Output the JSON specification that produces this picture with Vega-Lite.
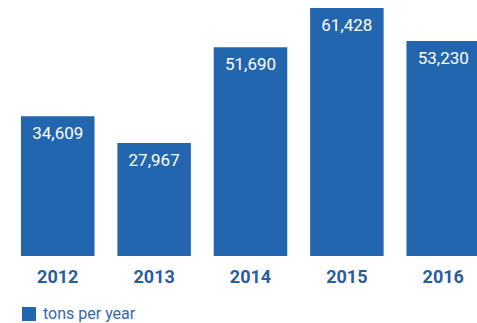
{
  "$schema": "https://vega.github.io/schema/vega-lite/v6.json",
  "width": 477,
  "height": 248,
  "autosize": {"type": "none"},
  "padding": {"left": 0, "top": 8, "right": 0, "bottom": 67},
  "background": "white",
  "config": {"view": {"stroke": null}, "font": "Roboto"},
  "data": {
    "values": [
      {"year": "2012", "tons": 34609, "series": "tons per year"},
      {"year": "2013", "tons": 27967, "series": "tons per year"},
      {"year": "2014", "tons": 51690, "series": "tons per year"},
      {"year": "2015", "tons": 61428, "series": "tons per year"},
      {"year": "2016", "tons": 53230, "series": "tons per year"}
    ]
  },
  "encoding": {
    "x": {
      "field": "year",
      "type": "ordinal",
      "scale": {"range": [21, 480], "paddingInner": 0.237, "paddingOuter": 0},
      "axis": {
        "title": null,
        "domain": false,
        "ticks": false,
        "tickSize": 0,
        "labelAngle": 0,
        "labelFont": "Roboto",
        "labelFontWeight": "bold",
        "labelFontSize": 18,
        "labelColor": "#2a5c9e",
        "labelBaseline": "alphabetic",
        "labelPadding": 26
      }
    },
    "y": {
      "field": "tons",
      "type": "quantitative",
      "scale": {"domain": [0, 61428], "nice": false},
      "axis": null
    }
  },
  "layer": [
    {
      "mark": {"type": "bar", "clip": true},
      "encoding": {
        "color": {
          "field": "series",
          "type": "nominal",
          "scale": {"range": ["#2266b0"]},
          "legend": {
            "title": null,
            "orient": "none",
            "legendX": 21,
            "legendY": 298,
            "padding": 0,
            "symbolType": "square",
            "symbolSize": 196,
            "symbolStrokeWidth": 0,
            "symbolOpacity": 1,
            "labelFont": "Roboto",
            "labelFontSize": 16,
            "labelColor": "#3467ad",
            "labelOffset": 6
          }
        }
      }
    },
    {
      "mark": {"type": "text", "color": "white", "font": "Roboto", "fontSize": 17, "baseline": "alphabetic", "dy": 23},
      "encoding": {
        "text": {"field": "tons", "type": "quantitative", "format": ","}
      }
    }
  ]
}
